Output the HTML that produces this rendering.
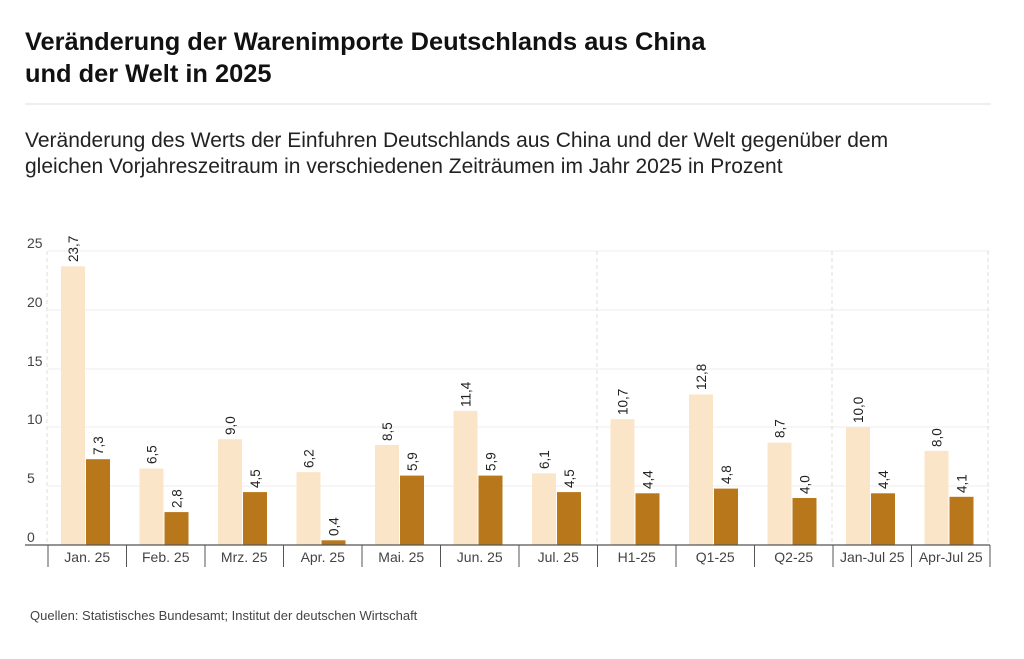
<!DOCTYPE html>
<html><head><meta charset="utf-8"><style>
body{margin:0;width:1024px;height:654px;background:#fff;font-family:"Liberation Sans",sans-serif;overflow:hidden}
</style></head><body>
<svg width="1024" height="654" xmlns="http://www.w3.org/2000/svg" font-family="Liberation Sans, sans-serif">
<rect x="0" y="0" width="1024" height="654" fill="#fff"/>
<text x="25" y="50" font-size="25.4" font-weight="bold" fill="#111">Veränderung der Warenimporte Deutschlands aus China</text>
<text x="25" y="82" font-size="25.4" font-weight="bold" fill="#111">und der Welt in 2025</text>
<line x1="25" y1="104" x2="991" y2="104" stroke="#ddd"/>
<text x="25" y="147" font-size="21" fill="#222">Veränderung des Werts der Einfuhren Deutschlands aus China und der Welt gegenüber dem</text>
<text x="25" y="173" font-size="21" fill="#222">gleichen Vorjahreszeitraum in verschiedenen Zeiträumen im Jahr 2025 in Prozent</text>
<g stroke="#ececec">
<line x1="48" y1="251" x2="990" y2="251"/><line x1="48" y1="310" x2="990" y2="310"/>
<line x1="48" y1="369" x2="990" y2="369"/><line x1="48" y1="427" x2="990" y2="427"/>
<line x1="48" y1="486" x2="990" y2="486"/>
</g>
<g stroke="#ddd" stroke-dasharray="4,3">
<line x1="47" y1="251" x2="47" y2="545"/><line x1="597" y1="251" x2="597" y2="545"/>
<line x1="832" y1="251" x2="832" y2="545"/><line x1="988" y1="251" x2="988" y2="545"/>
</g>
<g font-size="14" fill="#444">
<text x="27" y="248">25</text><text x="27" y="307">20</text><text x="27" y="366">15</text>
<text x="27" y="424">10</text><text x="27" y="483">5</text><text x="27" y="542">0</text>
</g>
<g fill="#fbe5c8">
<rect x="61" y="266.3" width="24" height="278.7"/>
<rect x="139.5" y="468.6" width="24" height="76.4"/>
<rect x="218" y="439.2" width="24" height="105.8"/>
<rect x="296.5" y="472.1" width="24" height="72.9"/>
<rect x="375" y="445" width="24" height="100"/>
<rect x="453.5" y="410.9" width="24" height="134.1"/>
<rect x="532" y="473.3" width="24" height="71.7"/>
<rect x="610.5" y="419.2" width="24" height="125.8"/>
<rect x="689" y="394.5" width="24" height="150.5"/>
<rect x="767.5" y="442.7" width="24" height="102.3"/>
<rect x="846" y="427.4" width="24" height="117.6"/>
<rect x="924.5" y="450.9" width="24" height="94.1"/>
</g>
<g fill="#b8771b">
<rect x="86" y="459.2" width="24" height="85.8"/>
<rect x="164.5" y="512.1" width="24" height="32.9"/>
<rect x="243" y="492.1" width="24" height="52.9"/>
<rect x="321.5" y="540.3" width="24" height="4.7"/>
<rect x="400" y="475.6" width="24" height="69.4"/>
<rect x="478.5" y="475.6" width="24" height="69.4"/>
<rect x="557" y="492.1" width="24" height="52.9"/>
<rect x="635.5" y="493.3" width="24" height="51.7"/>
<rect x="714" y="488.6" width="24" height="56.4"/>
<rect x="792.5" y="498" width="24" height="47"/>
<rect x="871" y="493.3" width="24" height="51.7"/>
<rect x="949.5" y="496.8" width="24" height="48.2"/>
</g>
<g font-size="13.5" fill="#222">
<text transform="translate(78,262) rotate(-90)">23,7</text>
<text transform="translate(103,455) rotate(-90)">7,3</text>
<text transform="translate(156.5,464) rotate(-90)">6,5</text>
<text transform="translate(181.5,508) rotate(-90)">2,8</text>
<text transform="translate(235,435) rotate(-90)">9,0</text>
<text transform="translate(260,488) rotate(-90)">4,5</text>
<text transform="translate(313.5,468) rotate(-90)">6,2</text>
<text transform="translate(338.5,536) rotate(-90)">0,4</text>
<text transform="translate(392,441) rotate(-90)">8,5</text>
<text transform="translate(417,471) rotate(-90)">5,9</text>
<text transform="translate(470.5,407) rotate(-90)">11,4</text>
<text transform="translate(495.5,471) rotate(-90)">5,9</text>
<text transform="translate(549,469) rotate(-90)">6,1</text>
<text transform="translate(574,488) rotate(-90)">4,5</text>
<text transform="translate(627.5,415) rotate(-90)">10,7</text>
<text transform="translate(652.5,489) rotate(-90)">4,4</text>
<text transform="translate(706,390) rotate(-90)">12,8</text>
<text transform="translate(731,484) rotate(-90)">4,8</text>
<text transform="translate(784.5,438) rotate(-90)">8,7</text>
<text transform="translate(809.5,494) rotate(-90)">4,0</text>
<text transform="translate(863,423) rotate(-90)">10,0</text>
<text transform="translate(888,489) rotate(-90)">4,4</text>
<text transform="translate(941.5,447) rotate(-90)">8,0</text>
<text transform="translate(966.5,493) rotate(-90)">4,1</text>
</g>
<line x1="25" y1="545" x2="990" y2="545" stroke="#555" stroke-width="1.3"/>
<g stroke="#555">
<line x1="48" y1="545" x2="48" y2="567"/><line x1="126.5" y1="545" x2="126.5" y2="567"/>
<line x1="205" y1="545" x2="205" y2="567"/><line x1="283.5" y1="545" x2="283.5" y2="567"/>
<line x1="362" y1="545" x2="362" y2="567"/><line x1="440.5" y1="545" x2="440.5" y2="567"/>
<line x1="519" y1="545" x2="519" y2="567"/><line x1="597.5" y1="545" x2="597.5" y2="567"/>
<line x1="676" y1="545" x2="676" y2="567"/><line x1="754.5" y1="545" x2="754.5" y2="567"/>
<line x1="833" y1="545" x2="833" y2="567"/><line x1="911.5" y1="545" x2="911.5" y2="567"/>
<line x1="990" y1="545" x2="990" y2="567"/>
</g>
<g font-size="14" fill="#444" text-anchor="middle">
<text x="87.25" y="562">Jan. 25</text><text x="165.75" y="562">Feb. 25</text>
<text x="244.25" y="562">Mrz. 25</text><text x="322.75" y="562">Apr. 25</text>
<text x="401.25" y="562">Mai. 25</text><text x="479.75" y="562">Jun. 25</text>
<text x="558.25" y="562">Jul. 25</text><text x="636.75" y="562">H1-25</text>
<text x="715.25" y="562">Q1-25</text><text x="793.75" y="562">Q2-25</text>
<text x="872.25" y="562">Jan-Jul 25</text><text x="950.75" y="562">Apr-Jul 25</text>
</g>
<text x="30" y="620" font-size="13" fill="#444">Quellen: Statistisches Bundesamt; Institut der deutschen Wirtschaft</text>
</svg>
</body></html>
